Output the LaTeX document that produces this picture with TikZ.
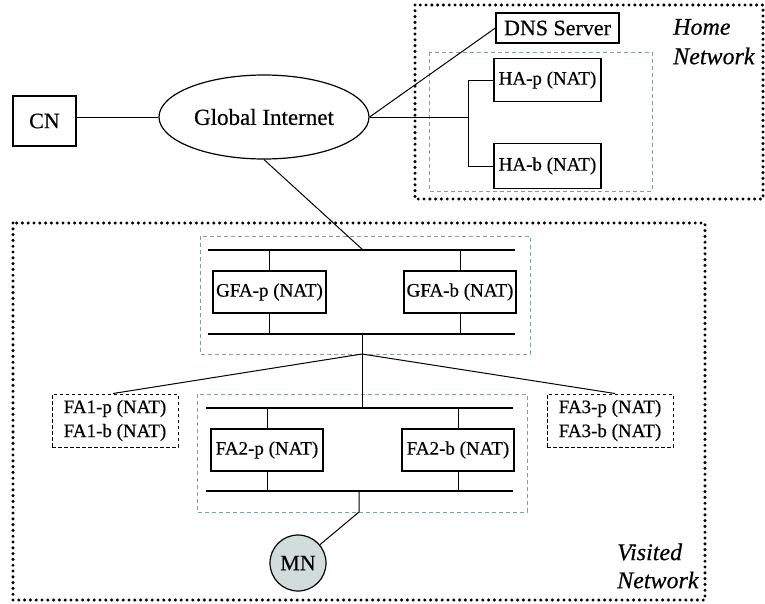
\documentclass[tikz,border=0pt]{standalone}
\usepackage{fontspec}
\setmainfont{Liberation Serif}[FakeBold=0.5]
\usetikzlibrary{shapes.geometric}
\definecolor{tealdash}{HTML}{7FA19D}
\definecolor{mnfill}{HTML}{D2DDDB}
\tikzset{
  box/.style={draw, line width=1.2pt, fill=white, inner sep=0pt, font=\fontsize{19}{22}\selectfont},
  bigbox/.style={draw, line width=1.2pt, fill=white, inner sep=0pt, font=\fontsize{22}{26}\selectfont},
  dbox/.style={draw, line width=1pt, dash pattern=on 3.5pt off 2.5pt, inner sep=0pt, align=center, font=\fontsize{19}{24}\selectfont},
  frame/.style={line width=3.4pt, dash pattern=on 0pt off 5.8pt, line cap=round},
  group/.style={draw=tealdash, line width=1pt, dash pattern=on 4pt off 3pt},
  bus/.style={line width=1.6pt},
  link/.style={line width=1pt},
  lab/.style={anchor=west, inner sep=0pt, font=\fontsize{24}{28}\selectfont\itshape}
}
\begin{document}
\begin{tikzpicture}[x=1pt,y=-1pt]
\useasboundingbox (0,0) rectangle (765,603);
% frames
\draw[frame] (415,5) rectangle (763,199);
\draw[frame] (13,223) rectangle (705,600);
\node[lab] (homel) at (673,27) {Home};
\node[lab] (homen) at (673,56) {Network};
\node[lab] (visl) at (617,552) {Visited};
\node[lab] (visn) at (617,580) {Network};
% groups
\draw[group] (429,52) rectangle (652,191);
\draw[group] (200,236) rectangle (530,354);
\draw[group] (197,394) rectangle (527,512);
% top nodes
\node[bigbox, minimum width=63pt, minimum height=50pt] (cn) at (44.5,121) {CN};
\node[draw, ellipse, line width=1.2pt, minimum width=210pt, minimum height=84pt, inner sep=0pt, font=\fontsize{23}{27}\selectfont] (gi) at (264,117) {Global Internet};
\node[bigbox, minimum width=123pt, minimum height=30pt] (dns) at (557.5,28) {DNS Server};
\node[box, minimum width=107pt, minimum height=43pt] (hap) at (547.5,80) {HA-p (NAT)};
\node[box, minimum width=107pt, minimum height=45pt] (hab) at (547.5,166) {HA-b (NAT)};
\coordinate (hj) at (468,117);
\draw[link] (gi.west) -- (gi.west -| cn.east);
\draw[link] (gi.east) -- (dns.west);
\draw[link] (gi.east) -- (hj);
\draw[link] (hap.west) -- (hap.west -| hj) -- (hab.west -| hj) -- (hab.west);
% GFA
\node[box, minimum width=113pt, minimum height=42pt] (gfap) at (269.5,292) {GFA-p (NAT)};
\node[box, minimum width=112pt, minimum height=42pt] (gfab) at (460,292) {GFA-b (NAT)};
\coordinate (gu1) at (208,250); \coordinate (gu2) at (515,250);
\coordinate (gl1) at (208,334); \coordinate (gl2) at (515,334);
\draw[bus] (gu1) -- (gu2);
\draw[bus] (gl1) -- (gl2);
\draw[link] (gfap.north) -- (gfap.north |- gu1);
\draw[link] (gfap.south) -- (gfap.south |- gl1);
\draw[link] (gfab.north) -- (gfab.north |- gu1);
\draw[link] (gfab.south) -- (gfab.south |- gl1);
\coordinate (gin) at (363,250);
\draw[link] (gi.south) -- (gin);
\coordinate (gs) at (362,334);
\coordinate (fan) at (362,354);
\draw[link] (gs) -- (fan);
% FA1, FA3
\node[dbox, minimum width=126pt, minimum height=53pt] (fa1) at (115,420.5) {FA1-p (NAT)\\FA1-b (NAT)};
\node[dbox, minimum width=126pt, minimum height=53pt] (fa3) at (610,420.5) {FA3-p (NAT)\\FA3-b (NAT)};
\draw[link] (fan) -- ([xshift=-2pt]fa1.north);
\draw[link] (fan) -- ([xshift=5pt]fa3.north);
% FA2
\node[box, minimum width=112pt, minimum height=42pt] (fa2p) at (267,450) {FA2-p (NAT)};
\node[box, minimum width=112pt, minimum height=42pt] (fa2b) at (458,450) {FA2-b (NAT)};
\coordinate (fu1) at (206,408); \coordinate (fu2) at (513,408);
\coordinate (fl1) at (206,491); \coordinate (fl2) at (513,491);
\draw[bus] (fu1) -- (fu2);
\draw[bus] (fl1) -- (fl2);
\draw[link] (fan) -- (fan |- fu1);
\draw[link] (fa2p.north) -- (fa2p.north |- fu1);
\draw[link] (fa2p.south) -- (fa2p.south |- fl1);
\draw[link] (fa2b.north) -- (fa2b.north |- fu1);
\draw[link] (fa2b.south) -- (fa2b.south |- fl1);
% MN
\node[draw, circle, line width=1.2pt, fill=mnfill, minimum size=56pt, inner sep=0pt, font=\fontsize{22}{26}\selectfont] (mn) at (298,563) {MN};
\coordinate (ms) at (359,491);
\coordinate (mb) at (359,512);
\draw[link] (ms) -- (mb) -- (mn);
\end{tikzpicture}
\end{document}
